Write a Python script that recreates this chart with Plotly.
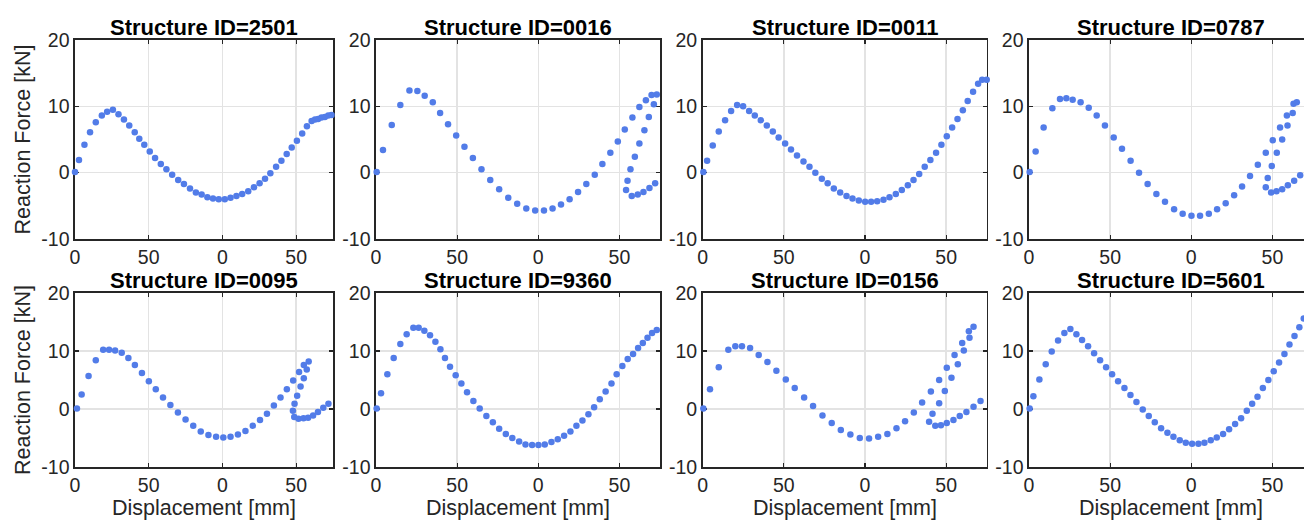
import plotly.graph_objects as go

# ---------------- data ----------------
structure_ids = ["2501", "0016", "0011", "0787", "0095", "9360", "0156", "5601"]

x_2501 = [0, 2.7, 6.4, 10.2, 14.1, 18.2, 21.8, 25.7, 29.5, 33.2, 36.8, 40.5, 43.6, 47.0, 50.7, 54.3,
          58.2, 62.0, 65.9, 70.0, 73.9, 78.0, 82.0, 85.9, 89.8, 93.6, 97.5, 101.6, 105.5, 109.5, 113.4,
          117.5, 121.4, 125.2, 128.9, 132.5, 136.4, 140.0, 143.6, 147.0, 150.5, 154.1, 157.3, 160.5,
          162.8, 164.9, 167.2, 169.5, 171.8, 174.0]
y_2501 = [0.1, 1.9, 4.2, 6.1, 7.6, 8.6, 9.2, 9.5, 8.8, 8.0, 7.1, 6.1, 5.1, 4.2, 3.2, 2.2,
          1.3, 0.5, -0.3, -1.1, -1.7, -2.4, -3.0, -3.3, -3.7, -3.9, -4.0, -4.0, -3.8, -3.5, -3.2,
          -2.8, -2.2, -1.6, -0.9, -0.1, 0.9, 1.8, 2.8, 3.8, 4.8, 5.9, 7.0, 7.8,
          8.0, 8.1, 8.3, 8.4, 8.6, 8.7]

x_0016 = [0.4, 4.3, 9.7, 15.0, 20.6, 25.5, 30.0, 35.0, 39.5, 44.4, 49.4, 54.5, 59.7, 65.0, 70.4, 75.9,
          81.5, 87.0, 92.6, 98.1, 103.5, 108.8, 114.0, 119.3, 124.5, 129.6, 134.8, 139.5, 144.4, 149.0,
          153.3, 158.0, 162.3, 166.3, 169.8, 173.0,
          171.2, 168.1, 165.4, 162.3, 159.5, 156.8, 155.0, 154.1, 157.6, 161.3, 164.8, 168.5, 172.0]
y_0016 = [0.1, 3.4, 7.2, 10.2, 12.4, 12.3, 11.6, 10.6, 9.0, 7.3, 5.6, 3.9, 2.2, 0.5, -1.1, -2.5,
          -3.8, -4.7, -5.4, -5.7, -5.7, -5.4, -4.8, -4.0, -2.9, -1.7, -0.3, 1.3, 3.0, 4.7,
          6.5, 8.3, 9.9, 10.9, 11.7, 11.8,
          10.3, 8.4, 6.4, 4.4, 2.4, 0.5, -1.2, -2.6, -3.5, -3.3, -2.9, -2.3, -1.6]

x_0011 = [0.4, 2.7, 6.2, 9.9, 13.8, 17.5, 21.2, 24.9, 28.6, 32.1, 35.8, 39.5, 43.2, 46.8, 50.8, 54.4,
          58.1, 62.1, 65.8, 69.4, 73.4, 77.0, 80.8, 84.7, 88.6, 92.3, 96.2, 100.1, 103.8, 107.5,
          111.4, 115.1, 119.0, 122.7, 126.4, 129.9, 133.4, 136.8, 140.3, 143.8, 147.1, 150.4, 153.7,
          157.0, 160.3, 163.3, 166.6, 169.7, 172.2, 175.0]
y_0011 = [0.1, 1.8, 4.1, 6.2, 7.9, 9.3, 10.2, 10.0, 9.3, 8.6, 7.9, 7.1, 6.2, 5.3, 4.4, 3.5,
          2.6, 1.7, 0.9, 0.0, -0.9, -1.6, -2.4, -3.0, -3.5, -3.9, -4.2, -4.4, -4.4, -4.3,
          -4.1, -3.7, -3.2, -2.6, -1.9, -1.1, -0.2, 0.9, 1.9, 3.0, 4.2, 5.5, 6.8,
          8.1, 9.4, 10.8, 12.2, 13.4, 14.0, 14.0]

x_0787 = [0.4, 4.1, 9.0, 14.4, 19.1, 23.0, 26.9, 31.8, 36.8, 41.7, 46.8, 52.2, 57.3, 62.6, 67.8, 73.1,
          78.5, 83.8, 89.4, 94.7, 100.1, 105.4, 110.8, 115.9, 121.2, 126.4, 131.3, 136.2, 141.0, 145.9,
          150.2, 154.7, 158.9, 163.0, 165.0,
          162.5, 159.3, 156.0, 152.7, 149.6, 147.1, 145.9, 149.2, 152.5, 156.0, 159.5, 163.4, 167.1]
y_0787 = [0.1, 3.2, 6.8, 9.7, 11.1, 11.2, 11.0, 10.6, 9.8, 8.6, 7.1, 5.3, 3.6, 1.8, 0.0, -1.7,
          -3.2, -4.4, -5.5, -6.2, -6.5, -6.5, -6.2, -5.5, -4.6, -3.4, -2.1, -0.5, 1.2, 3.0,
          4.9, 6.8, 8.6, 10.4, 10.6,
          9.0, 7.1, 5.0, 3.0, 1.0, -0.8, -2.2, -3.0, -2.8, -2.5, -1.9, -1.2, -0.4]

x_0095 = [1.3, 4.5, 9.2, 14.1, 19.1, 23.1, 27.2, 31.7, 36.2, 40.6, 45.4, 50.1, 54.8, 59.7, 64.7, 69.8,
          75.0, 80.2, 85.3, 90.5, 95.7, 100.6, 105.5, 110.5, 115.6, 120.6, 125.5, 130.2, 134.9, 139.4,
          143.7, 148.0, 152.0, 155.2, 158.5,
          157.2, 155.2, 153.0, 150.7, 148.9, 147.8, 148.7, 151.6, 155.0, 158.1, 161.5, 164.8, 168.4, 171.9]
y_0095 = [0.1, 2.5, 5.7, 8.4, 10.2, 10.2, 10.1, 9.7, 8.8, 7.6, 6.2, 4.8, 3.4, 2.0, 0.7, -0.6,
          -1.8, -2.9, -3.9, -4.5, -4.8, -4.9, -4.8, -4.4, -3.8, -2.9, -1.9, -0.8, 0.6, 2.0,
          3.4, 4.9, 6.4, 7.6, 8.2,
          6.8, 5.3, 3.9, 2.3, 0.9, -0.3, -1.4, -1.7, -1.6, -1.5, -1.1, -0.5, 0.2, 0.9]

x_9360 = [0.4, 3.1, 7.0, 10.9, 15.0, 18.9, 23.0, 26.3, 29.8, 33.3, 36.6, 39.7, 42.5, 45.6, 49.1, 52.6,
          56.1, 60.0, 63.9, 68.0, 72.0, 75.9, 80.0, 84.0, 88.2, 92.1, 96.2, 100.1, 104.0, 108.1,
          112.0, 115.9, 119.8, 123.5, 127.2, 130.9, 134.4, 137.9, 141.5, 145.1, 148.3, 151.8, 155.1,
          158.4, 161.5, 164.4, 167.3, 170.1, 173.0]
y_9360 = [0.1, 2.7, 6.0, 8.8, 11.2, 12.9, 14.0, 14.0, 13.5, 12.7, 11.6, 10.3, 8.8, 7.3, 5.8, 4.4,
          2.9, 1.4, 0.1, -1.2, -2.3, -3.4, -4.3, -5.0, -5.6, -6.1, -6.2, -6.2, -6.1, -5.7,
          -5.2, -4.6, -3.9, -2.9, -2.0, -0.9, 0.3, 1.7, 3.0, 4.4, 6.0, 7.4, 8.6,
          9.5, 10.5, 11.4, 12.3, 13.1, 13.6]

x_0156 = [0.4, 4.5, 9.9, 15.8, 20.1, 24.2, 29.2, 34.5, 39.9, 45.4, 51.2, 56.7, 62.5, 68.0, 73.8, 79.5,
          85.1, 91.0, 96.8, 102.5, 108.1, 113.8, 119.4, 124.7, 130.1, 135.2, 140.6, 145.7, 150.4, 155.2,
          159.9, 164.0, 166.9,
          164.4, 160.9, 157.2, 153.3, 149.2, 145.7, 141.6, 139.5, 143.3, 146.8, 150.4, 154.5, 158.4,
          162.5, 166.9, 171.2]
y_0156 = [0.1, 3.4, 7.2, 10.2, 10.8, 10.8, 10.5, 9.3, 8.1, 6.6, 5.1, 3.6, 2.0, 0.5, -1.1, -2.4,
          -3.6, -4.4, -5.0, -5.1, -4.8, -4.3, -3.3, -2.1, -0.6, 1.1, 3.0, 5.0, 7.1, 9.3,
          11.4, 13.4, 14.2,
          12.3, 10.1, 7.7, 5.4, 3.1, 1.0, -0.8, -2.2, -2.9, -2.8, -2.4, -1.9, -1.2,
          -0.5, 0.4, 1.4]

x_5601 = [0.4, 2.7, 6.4, 10.3, 14.0, 17.9, 21.8, 25.5, 29.2, 32.7, 36.4, 40.1, 43.8, 47.5, 51.2, 54.9,
          58.8, 62.5, 66.2, 70.1, 73.8, 77.5, 81.4, 85.3, 89.0, 92.9, 96.6, 100.5, 104.4, 108.1,
          112.0, 115.7, 119.6, 123.3, 127.0, 130.7, 134.2, 137.5, 140.8, 144.1, 147.5, 150.8, 154.1,
          157.4, 160.5, 163.6, 166.6, 169.3]
y_5601 = [0.1, 2.2, 5.1, 7.7, 9.9, 11.8, 13.1, 13.8, 12.9, 11.9, 10.8, 9.6, 8.4, 7.2, 6.0, 4.8,
          3.6, 2.4, 1.2, -0.1, -1.2, -2.3, -3.3, -4.1, -4.8, -5.4, -5.8, -6.0, -6.0, -5.8,
          -5.4, -4.9, -4.3, -3.5, -2.6, -1.6, -0.3, 0.9, 2.1, 3.6, 5.0, 6.5, 8.0,
          9.5, 11.1, 12.6, 14.1, 15.6]

panel_x = [x_2501, x_0016, x_0011, x_0787, x_0095, x_9360, x_0156, x_5601]
panel_y = [y_2501, y_0016, y_0011, y_0787, y_0095, y_9360, y_0156, y_5601]

x_tickvals = [0, 50, 100, 150]
x_ticktext = ["0", "50", "0", "50"]
y_tickvals = [-10, 0, 10, 20]
y_ticktext = ["-10", "0", "10", "20"]

title_prefix = "Structure ID="
x_title = "Displacement [mm]"
y_title = "Reaction Force [kN]"

# ---------------- layout geometry (pixels) ----------------
W, H = 1304, 520
X_FULL = 175.0
col_px = [(75.0, 333.0), (376.0, 660.0), (702.7, 986.7), (1029.0, 1313.0)]
row_px = [(40.0, 239.0), (293.0, 467.0)]

FONT = "Liberation Sans, Arial, Helvetica, sans-serif"
DARK = "#262626"
DOT = "rgb(82,124,232)"
GRID = "#e3e3e3"

fig = go.Figure()
annotations = []

for i in range(8):
    r, c = divmod(i, 4)
    n = i + 1
    xa = "x" if n == 1 else f"x{n}"
    ya = "y" if n == 1 else f"y{n}"
    fig.add_trace(go.Scatter(
        x=panel_x[i], y=panel_y[i], mode="markers",
        marker=dict(size=6.5, color=DOT, line=dict(width=0)),
        xaxis=xa, yaxis=ya, showlegend=False, hoverinfo="skip", cliponaxis=False))

    x0p, x1p = col_px[c]
    xr = X_FULL
    if x1p > W:
        xr = X_FULL * (W - x0p) / (x1p - x0p)
        x1p = W
    y0p, y1p = row_px[r]
    dom_x = [x0p / W, x1p / W]
    dom_y = [1 - y1p / H, 1 - y0p / H]

    xkey = "xaxis" if n == 1 else f"xaxis{n}"
    ykey = "yaxis" if n == 1 else f"yaxis{n}"
    fig.layout[xkey] = dict(
        domain=dom_x, range=[0, xr], anchor=ya, layer="below traces",
        tickmode="array", tickvals=x_tickvals, ticktext=x_ticktext,
        showgrid=True, gridcolor=GRID, gridwidth=1.5, zeroline=False,
        showline=True, linecolor=DARK, linewidth=1.6, mirror="ticks",
        ticks="inside", ticklen=4, tickwidth=1.2, tickcolor=DARK,
        tickfont=dict(family=FONT, size=19.5, color=DARK), automargin=False)
    fig.layout[ykey] = dict(
        domain=dom_y, range=[-10, 20], anchor=xa, layer="below traces",
        tickmode="array", tickvals=y_tickvals, ticktext=y_ticktext,
        showgrid=True, gridcolor=GRID, gridwidth=1.5, zeroline=False,
        showline=True, linecolor=DARK, linewidth=1.6,
        mirror=("ticks" if c < 3 else False),
        ticks="inside", ticklen=4, tickwidth=1.2, tickcolor=DARK,
        tickfont=dict(family=FONT, size=19.5, color=DARK), automargin=False)

    cx = ((col_px[c][0] + col_px[c][1]) / 2) / W
    # subplot title
    annotations.append(dict(
        text=f"<b>{title_prefix}{structure_ids[i]}</b>", xref="paper", yref="paper",
        x=cx, y=1 - (y0p - 12.5) / H, xanchor="center", yanchor="middle", showarrow=False,
        font=dict(family=FONT, size=22, color="black")))

    if c == 0:
        annotations.append(dict(
            text=y_title, xref="paper", yref="paper", x=23 / W,
            y=1 - ((y0p + y1p) / 2) / H, xanchor="center", yanchor="middle",
            textangle=-90, showarrow=False, font=dict(family=FONT, size=21.5, color=DARK)))
    if r == 1:
        annotations.append(dict(
            text=x_title, xref="paper", yref="paper",
            x=cx, y=1 - 508 / H,
            xanchor="center", yanchor="middle", showarrow=False,
            font=dict(family=FONT, size=21.5, color=DARK)))

fig.update_layout(
    width=W, height=H, margin=dict(l=0, r=0, t=0, b=0),
    paper_bgcolor="white", plot_bgcolor="white",
    annotations=annotations, showlegend=False)

fig.write_html("out.html",
               config={"displayModeBar": False, "staticPlot": True},
               post_script="document.body.style.margin='0';document.body.style.overflow='hidden';")
